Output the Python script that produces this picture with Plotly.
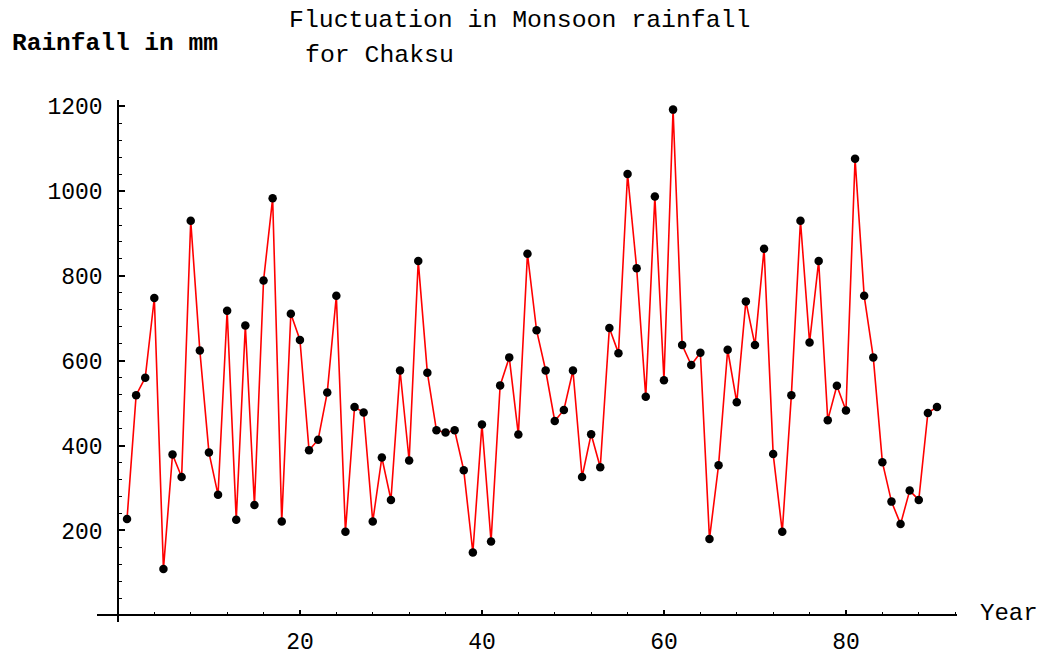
import plotly.graph_objects as go

W, H = 1044, 657

years = list(range(1, 91))
rainfall = [227, 519, 560, 748, 109, 379, 326, 930, 624, 384,
            284, 718, 225, 683, 260, 789, 983, 221, 711, 649,
            389, 414, 525, 753, 197, 491, 478, 221, 372, 272,
            577, 365, 835, 572, 436, 431, 436, 342, 148, 450,
            174, 542, 608, 426, 852, 672, 577, 458, 484, 577,
            326, 427, 349, 677, 618, 1040, 818, 515, 987, 554,
            1192, 637, 590, 619, 180, 354, 626, 502, 740, 637,
            864, 380, 197, 519, 930, 643, 835, 460, 541, 483,
            1076, 753, 608, 361, 268, 215, 294, 272, 477, 491]

x_ticks = [20, 40, 60, 80]
y_ticks = [200, 400, 600, 800, 1000, 1200]

title_line1 = "Fluctuation in Monsoon rainfall"
title_line2 = "for Chaksu"
y_label = "Rainfall in mm"
x_label = "Year"

FONT = "Liberation Mono"

# pixel geometry of the reference
Y0_PX = 615.0          # pixel row of y = 0
Y_SCALE = 0.4275       # px per mm
Y_MIN, Y_MAX = -16, 1215
top_px = Y0_PX - Y_MAX * Y_SCALE
bot_px = Y0_PX - Y_MIN * Y_SCALE

fig = go.Figure()
fig.add_trace(go.Scatter(
    x=years, y=rainfall, mode="lines+markers",
    line=dict(color="#ff0000", width=1.6),
    marker=dict(color="black", size=8.5),
    cliponaxis=False, showlegend=False,
))

fig.update_layout(
    width=W, height=H,
    margin=dict(l=0, r=0, t=0, b=0),
    paper_bgcolor="white", plot_bgcolor="white",
    font=dict(family=FONT, color="black"),
    xaxis=dict(
        range=[-2.3, 92.2], domain=[97 / W, 957 / W],
        anchor="free", position=1 - Y0_PX / H,
        showline=True, linecolor="black", linewidth=1.5,
        showgrid=False, zeroline=False,
        tickvals=x_ticks, ticks="inside", ticklen=5, tickwidth=1.5, tickcolor="black",
        minor=dict(tick0=0, dtick=4, ticks="inside", ticklen=3, tickwidth=1.2, tickcolor="black"),
        tickfont=dict(family=FONT, size=23, color="black"),
        ticklabelstandoff=5,
    ),
    yaxis=dict(
        range=[Y_MIN, Y_MAX], domain=[1 - bot_px / H, 1 - top_px / H],
        anchor="free", position=118 / W,
        showline=True, linecolor="black", linewidth=1.5,
        showgrid=False, zeroline=False,
        tickvals=y_ticks, ticks="inside", ticklen=6, tickwidth=1.8, tickcolor="black",
        minor=dict(tick0=0, dtick=40, ticks="inside", ticklen=3, tickwidth=1.2, tickcolor="black"),
        tickfont=dict(family=FONT, size=23, color="black"),
        ticklabelstandoff=10,
    ),
    annotations=[
        dict(text=title_line1, x=287 / W, y=1 - 15 / H, xref="paper", yref="paper",
             xanchor="left", yanchor="middle", showarrow=False,
             font=dict(family=FONT, size=24.8, color="black")),
        dict(text=title_line2, x=303 / W, y=1 - 50 / H, xref="paper", yref="paper",
             xanchor="left", yanchor="middle", showarrow=False,
             font=dict(family=FONT, size=24.8, color="black")),
        dict(text="<b>" + y_label + "</b>", x=10 / W, y=1 - 39 / H, xref="paper", yref="paper",
             xanchor="left", yanchor="middle", showarrow=False,
             font=dict(family=FONT, size=24.5, color="black")),
        dict(text=x_label, x=978 / W, y=1 - 613 / H, xref="paper", yref="paper",
             xanchor="left", yanchor="middle", showarrow=False,
             font=dict(family=FONT, size=24, color="black")),
    ],
)

fig.write_html(
    "out.html",
    config=dict(displayModeBar=False),
    post_script="document.body.style.margin='0';document.body.style.padding='0';",
)
